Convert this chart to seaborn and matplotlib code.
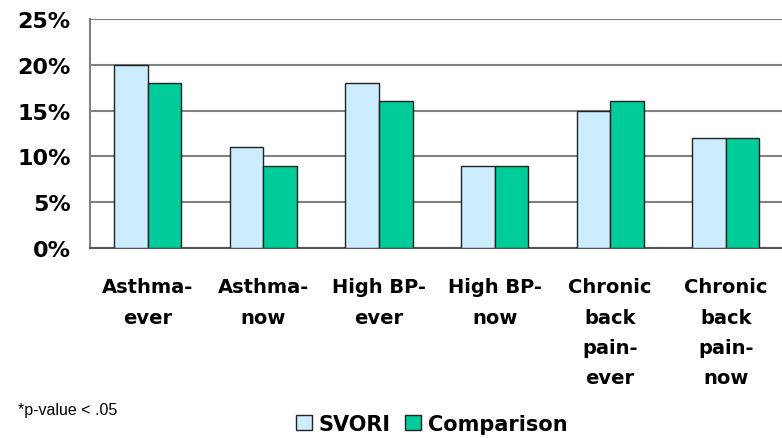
import matplotlib
matplotlib.use("Agg")
import matplotlib.pyplot as plt
import seaborn as sns
import pandas as pd
from matplotlib.patches import Patch
from matplotlib.ticker import FixedLocator, PercentFormatter

categories = ["Asthma-\never", "Asthma-\nnow", "High BP-\never", "High BP-\nnow",
              "Chronic\nback\npain-\never", "Chronic\nback\npain-\nnow"]
svori = [20, 11, 18, 9, 15, 12]
comparison = [18, 9, 16, 9, 16, 12]
series_names = ["SVORI", "Comparison"]
yticks = [0, 5, 10, 15, 20, 25]

rows = []
for c, v in zip(categories, svori):
    rows.append({"cat": c, "val": v, "grp": series_names[0]})
for c, v in zip(categories, comparison):
    rows.append({"cat": c, "val": v, "grp": series_names[1]})
df = pd.DataFrame(rows)

sns.set_theme(style="white")
plt.rcParams['font.family'] = ['DejaVu Sans']
plt.rcParams['text.color'] = 'black'

colors = {"SVORI": "#CCECFF", "Comparison": "#00CC99"}

fig = plt.figure(figsize=(7.82, 4.39), dpi=100)
ax = fig.add_axes([90/782, 1-249/439, 1-90/782+0.002, (249-20)/439])

sns.barplot(data=df, x="cat", y="val", hue="grp", palette=colors, ax=ax,
            width=0.58, edgecolor="#222222", linewidth=1.0, legend=False,
            zorder=3, errorbar=None, saturation=1)

ax.set_ylim(0, 25)
ax.set_xlim(-0.5, len(categories) - 0.5)
ax.set_yticks(yticks)
ax.yaxis.set_major_formatter(PercentFormatter(decimals=0))
ax.yaxis.grid(True, color="#808080", linewidth=1.5, zorder=0)
ax.set_axisbelow(True)
ax.set_xlabel("")
ax.set_ylabel("")

for s in ["right", "top"]:
    ax.spines[s].set_visible(False)
ax.spines["left"].set_color("#808080")
ax.spines["left"].set_linewidth(1.5)
ax.spines["bottom"].set_color("#555555")
ax.spines["bottom"].set_linewidth(1.5)

ax.tick_params(axis="y", which="major", length=7, width=1.5, color="#808080",
               direction="out", labelsize=16, pad=7, labelcolor="black")
for t in ax.get_yticklabels():
    t.set_fontweight("bold")

ax.set_xticks(range(len(categories)))
ax.set_xticklabels(categories, fontsize=14, fontweight="bold", linespacing=1.76)
ax.tick_params(axis="x", which="major", length=0, pad=21, labelcolor="black")
ax.xaxis.set_minor_locator(FixedLocator([i + 0.5 for i in range(-1, len(categories))]))
ax.tick_params(axis="x", which="minor", length=7, width=1.2, color="#555555", direction="out")

handles = [Patch(facecolor=colors[n], edgecolor="#222222", linewidth=1.0, label=n)
           for n in series_names]
leg = fig.legend(handles=handles, loc="center", bbox_to_anchor=(432/782, 1-425/439),
                 ncol=2, frameon=False, handlelength=0.75, handleheight=0.75,
                 handletextpad=0.35, columnspacing=0.7,
                 prop={"size": 15, "weight": "bold"})
for t in leg.get_texts():
    t.set_color("black")

fig.text(18/782, 1-411/439, "*p-value < .05", fontsize=11.5, va="center", ha="left",
         family="Liberation Sans", color="black")

fig.savefig("out.png", dpi=100)
